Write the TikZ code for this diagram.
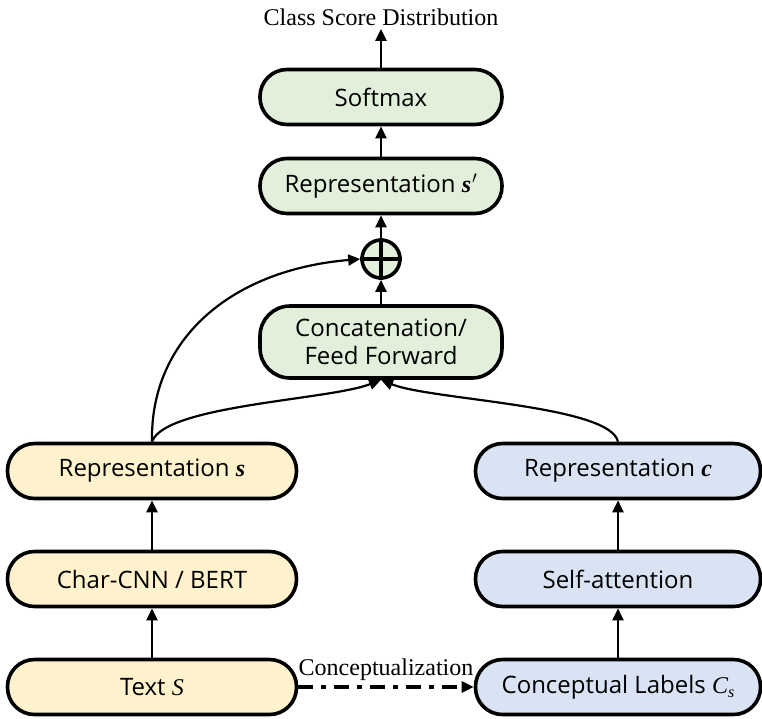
\documentclass[tikz,border=0pt]{standalone}
\usepackage{fontspec}
\setmainfont{Liberation Serif}
\newfontfamily\boxfont{Open Sans}
\newfontfamily\mfont{Liberation Serif}
\newcommand{\bvar}[1]{{\mfont\bfseries\itshape #1}}
\newcommand{\ivar}[1]{{\mfont\itshape #1}}
\usetikzlibrary{arrows.meta}
\definecolor{gfill}{RGB}{226,239,218}
\definecolor{yfill}{RGB}{255,242,204}
\definecolor{bfill}{RGB}{218,227,243}
\begin{document}
\begin{tikzpicture}[x=1pt,y=-1pt,
  blk/.style={draw=black,line width=3.6pt,rounded corners=27pt,minimum width=#1,minimum height=55pt,inner sep=0pt,align=center,font=\boxfont\fontsize{24}{30}\selectfont},
  arr/.style={line width=2.5pt,-{Triangle[length=12pt,width=11pt]}},
  cur/.style={line width=2.2pt,-{Triangle[length=12pt,width=11pt]}}]
\useasboundingbox (0,0) rectangle (762,718);
\node[font=\fontsize{24}{28}\selectfont] (csd) at (381,17) {Class Score Distribution};
\node[blk=242pt,fill=gfill] (soft) at (381,97) {Softmax};
\node[blk=242pt,fill=gfill] (reps2) at (381,186) {Representation \bvar{s}\kern1pt$'$};
\node[draw,circle,line width=3.6pt,fill=gfill,minimum size=38pt,inner sep=0pt] (plus) at (381,259) {};
\draw[line width=3.4pt] (plus.north) -- (plus.south) (plus.west) -- (plus.east);
\node[blk=242pt,fill=gfill,minimum height=72pt,rounded corners=30pt,font=\boxfont\fontsize{24}{28}\selectfont] (cat) at (381,342) {Concatenation/\\Feed Forward};
\node[blk=289pt,fill=yfill] (reps) at (152,471) {Representation \bvar{s}};
\node[blk=289pt,fill=yfill] (cnn) at (152,579) {Char-CNN / BERT};
\node[blk=289pt,fill=yfill] (text) at (152,687) {Text \ivar{S}};
\node[blk=285pt,fill=bfill] (repc) at (618,471) {Representation \bvar{c}};
\node[blk=285pt,fill=bfill] (att) at (618,579) {Self-attention};
\node[blk=285pt,fill=bfill] (cl) at (618,687) {Conceptual Labels \ivar{C}\raisebox{-4pt}{\ivar{\fontsize{16}{18}\selectfont s}}};
\draw[arr] (text) -- (cnn);
\draw[arr] (cnn) -- (reps);
\draw[arr] (cl) -- (att);
\draw[arr] (att) -- (repc);
\draw[arr] (cat) -- (plus);
\draw[arr] (plus) -- (reps2);
\draw[arr] (reps2) -- (soft);
\draw[arr] (soft) -- (csd);
\draw[cur] (reps.north) .. controls (150,340) and (230,270) .. (plus.west);
\draw[cur] (reps.north) .. controls (165,405) and (330,400) .. (cat.south);
\draw[cur] (repc.north) .. controls (610,405) and (430,400) .. (cat.south);
\draw[line width=3.2pt,dash pattern=on 15pt off 8pt on 5pt off 8pt,-{Triangle[length=12pt,width=11pt]}] (text.east) -- node[above=1pt,font=\fontsize{24}{28}\selectfont]{Conceptualization} (cl.west);
\end{tikzpicture}
\end{document}
